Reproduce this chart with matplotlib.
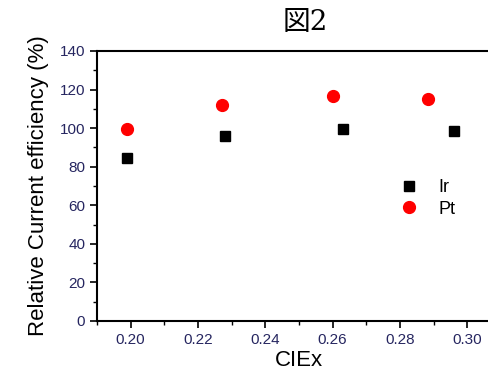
import matplotlib
matplotlib.use('Agg')
import matplotlib.pyplot as plt
from matplotlib.ticker import MultipleLocator

# values
ir_x = [0.1988, 0.2281, 0.2631, 0.2961]
ir_y = [84.5, 96.0, 99.6, 98.3]
pt_x = [0.1988, 0.2271, 0.2600, 0.2882]
pt_y = [99.8, 112.2, 116.8, 115.1]

plt.rcParams['font.family'] = ['Liberation Sans', 'DejaVu Sans']

fig = plt.figure(figsize=(4.89, 3.76), dpi=100)
ax = fig.add_axes([97 / 489, 55 / 376, 404 / 489, 270 / 376])

ax.plot(ir_x, ir_y, 's', color='black', markersize=7.5, label='Ir', linestyle='none')
ax.plot(pt_x, pt_y, 'o', color='red', markersize=8.5, label='Pt', linestyle='none')

ax.set_xlim(0.19, 0.31)
ax.set_ylim(0, 140)
ax.xaxis.set_major_locator(MultipleLocator(0.02))
ax.xaxis.set_minor_locator(MultipleLocator(0.01))
ax.yaxis.set_major_locator(MultipleLocator(20))
ax.yaxis.set_minor_locator(MultipleLocator(10))
ax.set_xticks([0.20, 0.22, 0.24, 0.26, 0.28, 0.30])
ax.set_xticklabels(['0.20', '0.22', '0.24', '0.26', '0.28', '0.30'])

for s in ax.spines.values():
    s.set_linewidth(1.5)
ax.tick_params(which='major', direction='out', length=5, width=1.2,
               labelsize=11, labelcolor='#262660')
ax.tick_params(which='minor', direction='out', length=3, width=1.0)

ax.set_xlabel('CIEx', fontsize=16, labelpad=2)
ax.set_ylabel('Relative Current efficiency (%)', fontsize=16, labelpad=8)

fig.text(0.624, 0.94, '図2', fontsize=20, ha='center', va='center',
         family=['DejaVu Serif', 'Noto Sans CJK JP'])

ax.legend(loc='upper left', bbox_to_anchor=(0.71, 0.585), frameon=False,
          fontsize=13, handletextpad=1.1, labelspacing=0.25, handlelength=1.0)

fig.savefig('out.png', dpi=100)
